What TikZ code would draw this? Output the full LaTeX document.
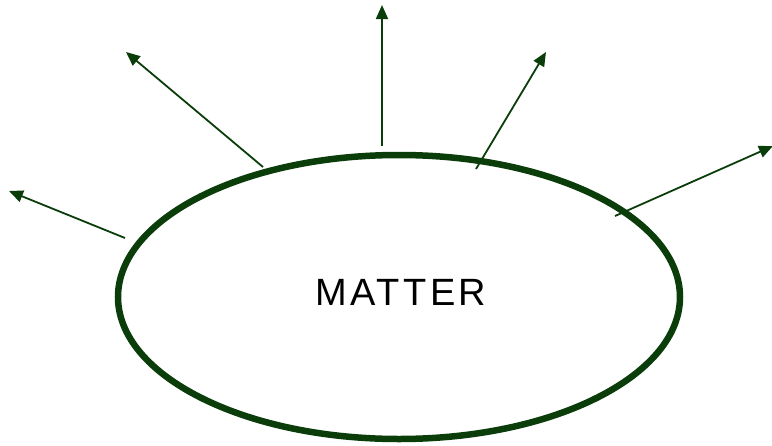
\documentclass[tikz,border=0pt]{standalone}
\usepackage{fontspec}
\setmainfont{Liberation Sans}
\usepackage{tikz}
\usetikzlibrary{arrows.meta,shapes.geometric}
\definecolor{leafx}{HTML}{0A3D0A}
\tikzset{
  ar/.style={-{Triangle[length=14pt,width=12pt]},line width=1.8pt,leafx},
  blob/.style={ellipse,draw=leafx,line width=6.5pt,minimum width=562pt,minimum height=284pt,inner sep=0pt},
  lab/.style={font=\fontsize{38}{38}\selectfont\addfontfeatures{LetterSpace=9},text=black}
}
\begin{document}
\begin{tikzpicture}[x=1pt,y=-1pt]
\useasboundingbox (0,0) rectangle (772,445);
\node[blob] (matter) at (399,297) {};
\node[lab] (mattertxt) at (401,292) {MATTER};
% free ends of the rays
\coordinate (s1) at (125,238); \coordinate (e1) at (9,191);
\coordinate (s2) at (263,167); \coordinate (e2) at (126,52);
\coordinate (s3) at (382,146); \coordinate (e3) at (382,5);
\coordinate (s4) at (476,169); \coordinate (e4) at (546,52);
\coordinate (s5) at (615,216); \coordinate (e5) at (773,146);
\foreach \i in {1,...,5}
  \draw[ar] (s\i) -- (e\i);
\end{tikzpicture}
\end{document}
